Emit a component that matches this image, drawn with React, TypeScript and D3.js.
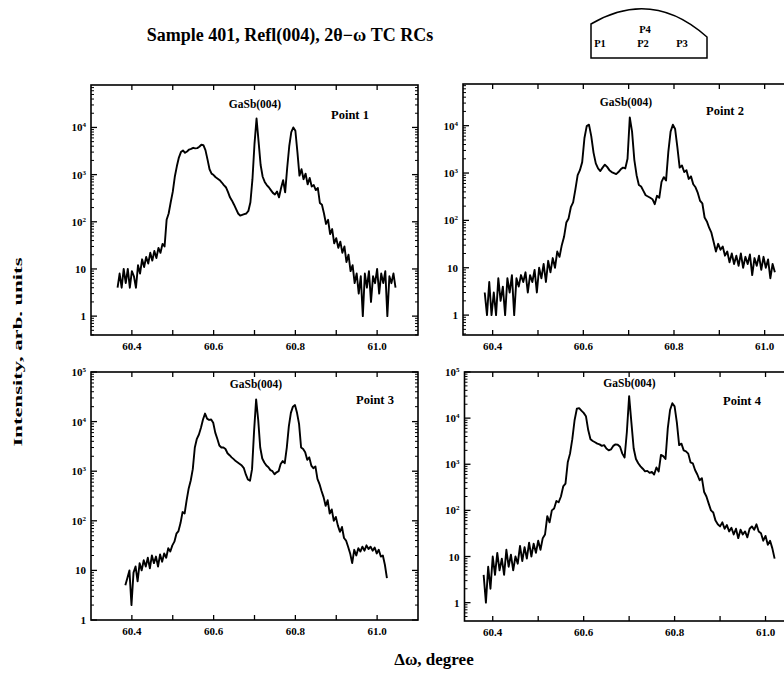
import React from "react";
import * as d3 from "d3";

// ---------- data (intensity, arb. units, on a regular 0.005 deg grid) ----------
const STEP = 0.005;

const P1_START = 60.365;
const P1_VALUES = [
  4, 8, 4, 10, 5, 10, 4, 9, 7, 4,
  12, 8, 16, 11, 18, 13, 22, 15, 24, 17, 28, 22, 34, 30,
  110, 150, 260, 430, 900, 1500, 2300, 3000,
  3250, 2900, 3100, 3400, 3500, 3700, 3600, 3650, 3900, 4300, 4200, 3300, 2100, 1300, 1050, 980,
  880, 820, 760, 680, 600, 540, 430, 330, 280, 230, 185, 150, 135, 140, 145, 150, 170, 260,
  800, 4500, 15500, 5000, 1600, 900, 700, 600, 540, 470, 410, 380, 440, 330, 520, 760, 420,
  1400, 4000, 8000, 10000, 8500, 3000, 950, 1300, 800, 1050, 620, 850, 560, 600, 470, 520, 250,
  230, 150, 90, 110, 55, 70, 35, 45, 28, 38, 22, 30, 14, 20, 9, 12, 5, 8,
  3, 7, 1, 8, 4, 9, 2, 7, 5, 10, 3, 8, 5, 9, 1, 7, 5, 8, 4,
];

const P2_START = 60.3825;
const P2_VALUES = [
  3, 1, 5, 1, 3, 1, 6, 2, 4, 1, 6, 3, 7, 1, 6, 4, 7, 5, 8, 3, 7, 5, 9, 3, 10, 6, 12, 5, 14, 8, 16, 10, 22, 17, 30,
  45, 90, 110, 190, 240, 450, 900, 1150, 1700, 5500, 9800, 10500, 6000, 2700, 1600,
  1250, 1100, 1300, 1500, 1350, 1150, 1050, 1000, 950, 1050, 1200, 1300, 1250, 2000,
  15000, 7500, 1900, 900, 560, 520, 420, 340, 320, 300, 280, 220, 330, 300, 650, 820, 700,
  2800, 7500, 10500, 8500, 3500, 1300, 1450, 1050, 1150, 750, 850, 580, 500, 380, 260, 230, 115, 95, 70, 55, 35,
  22, 32, 24, 28, 18, 22, 13, 20, 12, 18, 11, 20, 10, 17, 12, 19, 7, 16, 11, 18, 9, 17, 10, 15, 6, 12, 8,
];

const P3_START = 60.384;
const P3_VALUES = [
  5, 7, 10, 2, 9, 12, 6, 14, 10, 16, 12, 18, 11, 20, 14, 19, 12, 21, 15, 22, 18, 28, 24, 32, 38, 55, 62, 90,
  150, 140, 260, 450, 650, 1100, 3000, 4500, 5500, 7500, 11000, 14500, 11500, 10800, 11000, 9500, 6000,
  4500, 3300, 3000, 3000, 2800, 2300,
  2100, 1900, 1750, 1600, 1500, 1400, 1300, 1150, 850, 680, 640, 1100, 6500, 28000, 11000, 3000, 1800,
  1500, 1300, 1200, 1050, 1000, 870, 950, 1000,
  1400, 1600, 1450, 3000, 8000, 15000, 20000, 21500, 15000, 9000, 3000, 2800, 2400, 1700, 1900, 1300,
  1150, 1250, 700, 550, 400, 300, 200, 260, 140,
  170, 100, 120, 80, 60, 75, 45, 40, 30, 22, 14, 26, 20, 28, 24, 30, 25, 32, 27, 30, 25, 29, 22, 26, 19, 20, 13, 7,
];

const P4_START = 60.38;
const P4_VALUES = [
  4, 1, 6, 2, 10, 4, 12, 5, 9, 4, 14, 6, 11, 5, 10, 7, 17, 8, 16, 9, 20, 10, 19, 12, 22, 14, 25, 30,
  75, 55, 100, 110, 160, 150, 200, 330, 380, 1100, 1700, 3500, 9000, 16000, 16500, 14500, 13000, 11000,
  5500, 3500, 3200, 3000, 2800,
  2700, 2500, 2600, 2200, 2000, 2100, 2500, 2700, 2650, 2400, 1700, 1400, 5000, 30000, 8000, 2200, 1300,
  1050, 900, 800, 700, 720, 650, 680, 600,
  850, 700, 1600, 1500, 1300, 6000, 15000, 21000, 18000, 8000, 2600, 2800, 2000, 1900, 1700, 1100, 1050,
  750, 600, 450, 500, 250, 200, 140, 100,
  90, 60, 50, 45, 55, 40, 48, 35, 42, 30, 40, 25, 38, 30, 35, 26, 40, 45, 38, 50, 35, 32, 22, 28, 18, 22, 15, 9,
];

const X_TICKS = [60.4, 60.5, 60.6, 60.7, 60.8, 60.9, 61.0];
const X_TICK_LABELS = ["60.4", "60.6", "60.8", "61.0"];
const POINT_LABELS = ["Point 1", "Point 2", "Point 3", "Point 4"];
const PEAK_LABEL = "GaSb(004)";
const TITLE = "Sample 401, Refl(004), 2\u03b8\u2212\u03c9 TC RCs";
const X_TITLE = "\u0394\u03c9, degree";
const Y_TITLE = "Intensity, arb. units";
const WAFER_LABELS = ["P1", "P2", "P3", "P4"];

// ---------- layout ----------
const FONT = "'Liberation Serif', 'Times New Roman', Times, serif";

type Panel = {
  values: number[];
  start: number;
  box: { l: number; r: number; t: number; b: number };
  xDomain: [number, number];
  yDomain: [number, number];
  tagPos: [number, number];
  peakPos: [number, number];
};

const PANELS: Panel[] = [
  { values: P1_VALUES, start: P1_START, box: { l: 91, r: 418, t: 85, b: 335 }, xDomain: [60.3, 61.1], yDomain: [0.398, 79400], tagPos: [350, 115], peakPos: [255, 104] },
  { values: P2_VALUES, start: P2_START, box: { l: 463, r: 810, t: 84, b: 335 }, xDomain: [60.3346, 61.1], yDomain: [0.38, 75900], tagPos: [725, 111], peakPos: [626, 102] },
  { values: P3_VALUES, start: P3_START, box: { l: 91, r: 418, t: 372, b: 620 }, xDomain: [60.3, 61.1], yDomain: [1, 100000], tagPos: [375, 400], peakPos: [256, 384] },
  { values: P4_VALUES, start: P4_START, box: { l: 464.5, r: 811, t: 372, b: 621 }, xDomain: [60.3379, 61.1], yDomain: [0.4, 100000], tagPos: [742, 401], peakPos: [629.5, 383] },
];

function PanelView({ p, idx }: { p: Panel; idx: number }) {
  const { l, r, t, b } = p.box;
  const x = d3.scaleLinear().domain(p.xDomain).range([l, r]);
  const y = d3.scaleLog().domain(p.yDomain).range([b, t]);
  const pts: [number, number][] = p.values.map((v, i) => [p.start + i * STEP, v]);
  const line = d3
    .line<[number, number]>()
    .x((d) => x(d[0]))
    .y((d) => y(d[1]));

  const lo = Math.floor(Math.log10(p.yDomain[0]));
  const hi = Math.ceil(Math.log10(p.yDomain[1]));
  const majors: number[] = [];
  const minors: number[] = [];
  for (let e = lo; e <= hi; e++) {
    const d = Math.pow(10, e);
    if (d >= p.yDomain[0] * 0.999 && d <= p.yDomain[1] * 1.001) majors.push(e);
    for (let m = 2; m <= 9; m++) {
      const v = d * m;
      if (v > p.yDomain[0] && v < p.yDomain[1]) minors.push(v);
    }
  }
  const clipId = `clip${idx}`;
  return (
    <g>
      <defs>
        <clipPath id={clipId}>
          <rect x={l} y={t} width={r - l} height={b - t} />
        </clipPath>
      </defs>
      <path d={line(pts) || ""} fill="none" stroke="#000" strokeWidth={1.9} strokeLinejoin="round" clipPath={`url(#${clipId})`} />
      <rect x={l} y={t} width={r - l} height={b - t} fill="none" stroke="#000" strokeWidth={1.6} />
      {X_TICKS.map((v) => (
        <g key={v}>
          <line x1={x(v)} x2={x(v)} y1={b} y2={b - 5} stroke="#000" strokeWidth={1.3} />
          <line x1={x(v)} x2={x(v)} y1={t} y2={t + 5} stroke="#000" strokeWidth={1.3} />
        </g>
      ))}
      {X_TICK_LABELS.map((s) => (
        <text key={s} x={x(+s)} y={b + 15} textAnchor="middle" fontSize={11} fontWeight="bold" fontFamily={FONT}>
          {s}
        </text>
      ))}
      {minors.map((v) => (
        <g key={"m" + v}>
          <line x1={l} x2={l + 3} y1={y(v)} y2={y(v)} stroke="#000" strokeWidth={1} />
          <line x1={r} x2={r - 3} y1={y(v)} y2={y(v)} stroke="#000" strokeWidth={1} />
        </g>
      ))}
      {majors.map((e) => {
        const v = Math.pow(10, e);
        const yy = y(v);
        return (
          <g key={"M" + e}>
            <line x1={l} x2={l + 6} y1={yy} y2={yy} stroke="#000" strokeWidth={1.3} />
            <line x1={r} x2={r - 6} y1={yy} y2={yy} stroke="#000" strokeWidth={1.3} />
            <text x={l - 5} y={yy + 4} textAnchor="end" fontSize={11} fontWeight="bold" fontFamily={FONT}>
              {e === 0 ? "1" : "10"}
              {e >= 2 ? (
                <tspan dy={-4} fontSize={7}>
                  {String(e)}
                </tspan>
              ) : null}
            </text>
          </g>
        );
      })}
      <text x={p.peakPos[0]} y={p.peakPos[1] + 4} textAnchor="middle" fontSize={11.5} fontWeight="bold" fontFamily={FONT}>
        {PEAK_LABEL}
      </text>
      <text x={p.tagPos[0]} y={p.tagPos[1] + 4} textAnchor="middle" fontSize={12.5} fontWeight="bold" fontFamily={FONT}>
        {POINT_LABELS[idx]}
      </text>
    </g>
  );
}

export default function App() {
  return (
    <svg
      width={784}
      height={679}
      viewBox="0 0 784 679"
      style={{ position: "absolute", left: 0, top: 0, background: "#fff" }}
    >
      <rect x={0} y={0} width={784} height={679} fill="#fff" />
      <text x={290} y={41} textAnchor="middle" fontSize={18} fontWeight="bold" fontFamily={FONT}>
        {TITLE}
      </text>
      {/* wafer sketch */}
      <path d="M591,24 Q652,-12 707,37 L707,58 L591,58 Z" fill="none" stroke="#000" strokeWidth={1.5} />
      <text x={600} y={47} textAnchor="middle" fontSize={10.5} fontWeight="bold" fontFamily={FONT}>{WAFER_LABELS[0]}</text>
      <text x={643} y={47} textAnchor="middle" fontSize={10.5} fontWeight="bold" fontFamily={FONT}>{WAFER_LABELS[1]}</text>
      <text x={682} y={47} textAnchor="middle" fontSize={10.5} fontWeight="bold" fontFamily={FONT}>{WAFER_LABELS[2]}</text>
      <text x={645} y={33} textAnchor="middle" fontSize={10.5} fontWeight="bold" fontFamily={FONT}>{WAFER_LABELS[3]}</text>

      {PANELS.map((p, i) => (
        <PanelView key={i} p={p} idx={i} />
      ))}

      <text
        transform="translate(21.5,352) rotate(-90)"
        textAnchor="middle"
        fontSize={12}
        fontWeight="bold"
        fontFamily={FONT}
        textLength={189}
        lengthAdjust="spacingAndGlyphs"
      >
        {Y_TITLE}
      </text>
      <text x={434} y={665} textAnchor="middle" fontSize={17} fontWeight="bold" fontFamily={FONT}>
        {X_TITLE}
      </text>
    </svg>
  );
}
